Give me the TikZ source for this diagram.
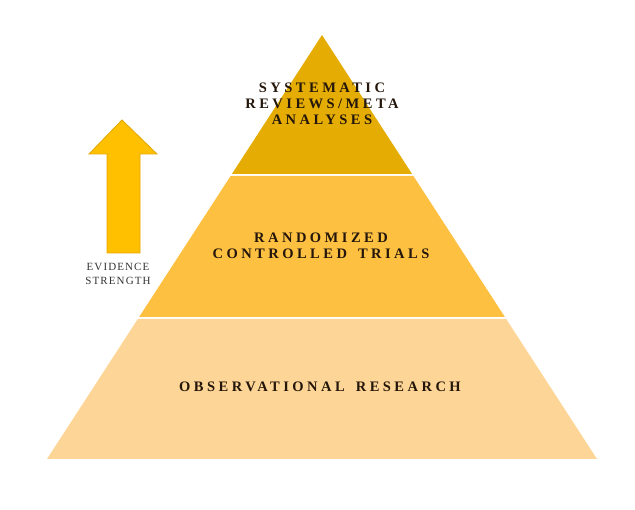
\documentclass[tikz,border=0pt]{standalone}
\usepackage{fontspec}
\setmainfont{Liberation Serif}
\newfontfamily\tierfont[LetterSpace=24]{Liberation Serif}
\newfontfamily\sidefont[LetterSpace=10]{Liberation Serif}
\definecolor{topc}{HTML}{E5AD03}
\definecolor{midc}{HTML}{FDC041}
\definecolor{botc}{HTML}{FDD596}
\definecolor{arrowc}{HTML}{FFC000}
\definecolor{arrowd}{HTML}{E2A600}
\definecolor{txtc}{HTML}{24160A}
\begin{document}
\begin{tikzpicture}[x=1pt,y=-1pt,
  tiertext/.style={font=\tierfont\bfseries\fontsize{14.5}{16}\selectfont, text=txtc, align=center, inner sep=0pt},
  sidetext/.style={font=\sidefont\fontsize{11}{14}\selectfont, text=black!80, align=center, inner sep=0pt}]
\useasboundingbox (0,0) rectangle (635,510);
% tiers
\fill[botc] (137.8,319) -- (506.2,319) -- (597,459) -- (47,459) -- cycle;
\fill[midc] (230.6,176) -- (413.4,176) -- (504.9,317) -- (139.1,317) -- cycle;
\fill[topc] (322,35) -- (412.1,174) -- (231.9,174) -- cycle;
% labels
\node[tiertext] (sr) at (322,104) {SYSTEMATIC\\REVIEWS/META\\ANALYSES};
\node[tiertext] (rct) at (321,246) {RANDOMIZED\\CONTROLLED\hspace{11pt}TRIALS};
\node[tiertext] (obs) at (320,387) {OBSERVATIONAL\hspace{11pt}RESEARCH};
% arrow
\draw[arrowd, fill=arrowc, line width=0.8pt, line join=miter]
  (122,120) -- (157,154) -- (140,154) -- (140,253) -- (107,253) -- (107,154) -- (89,154) -- cycle;
\node[sidetext] (ev) at (118,274) {EVIDENCE\\STRENGTH};
\end{tikzpicture}
\end{document}
